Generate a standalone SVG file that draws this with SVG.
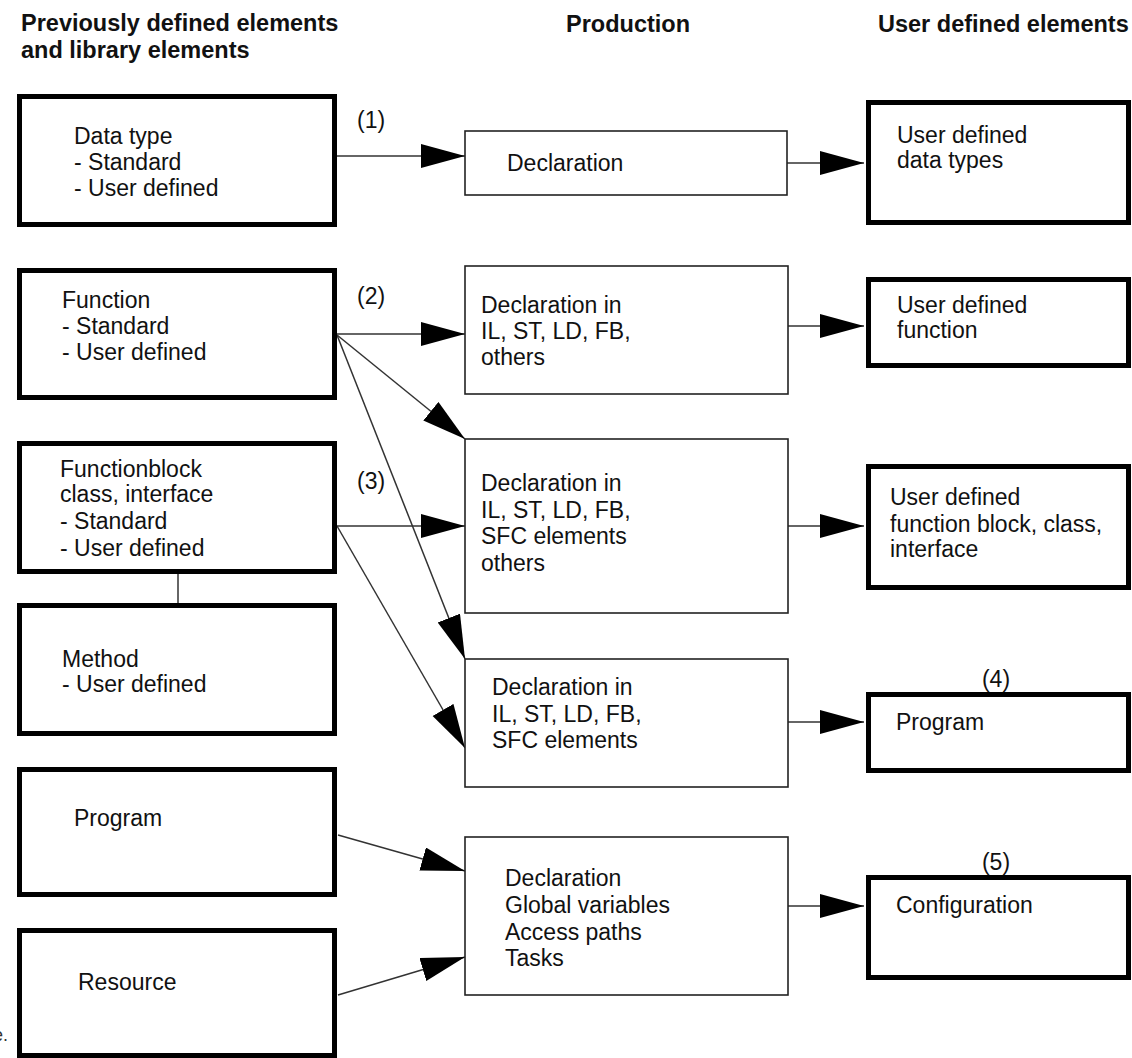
<svg xmlns="http://www.w3.org/2000/svg" width="1132" height="1058" viewBox="0 0 1132 1058">
  <style>
    text { font-family: "Liberation Sans", Arial, sans-serif; fill: #111; }
    .hdr { font-size: 23.5px; font-weight: bold; }
    .lbl { font-size: 23px; }
    .thick { fill: #fff; stroke: #000; stroke-width: 5; }
    .thin { fill: #fff; stroke: #222; stroke-width: 1.6; }
    .conn { fill: none; stroke: #333; stroke-width: 1.5; }
  </style>
  <defs>
    <marker id="arrow" markerUnits="userSpaceOnUse" markerWidth="46" markerHeight="26" refX="44" refY="12" orient="auto">
      <path d="M0,0 L44,12 L0,24 Z" fill="#000"/>
    </marker>
  </defs>

  <rect width="1132" height="1058" fill="#fff"/>

  <!-- column headings -->
  <g id="headings">
    <text class="hdr" x="21" y="31">Previously defined elements</text>
    <text class="hdr" x="21" y="58">and library elements</text>
    <text class="hdr" x="566" y="32">Production</text>
    <text class="hdr" x="878" y="32">User defined elements</text>
  </g>

  <!-- connectors -->
  <g id="connectors">
    <line class="conn" x1="337" y1="156" x2="465" y2="156" marker-end="url(#arrow)"/>
    <line class="conn" x1="787" y1="163" x2="864" y2="163" marker-end="url(#arrow)"/>
    <line class="conn" x1="337" y1="334" x2="465" y2="334" marker-end="url(#arrow)"/>
    <line class="conn" x1="337" y1="335" x2="465" y2="439" marker-end="url(#arrow)"/>
    <line class="conn" x1="337" y1="335" x2="465" y2="659" marker-end="url(#arrow)"/>
    <line class="conn" x1="788" y1="326" x2="864" y2="326" marker-end="url(#arrow)"/>
    <line class="conn" x1="337" y1="526" x2="465" y2="526" marker-end="url(#arrow)"/>
    <line class="conn" x1="337" y1="526" x2="465" y2="748" marker-end="url(#arrow)"/>
    <line class="conn" x1="788" y1="526" x2="864" y2="526" marker-end="url(#arrow)"/>
    <line class="conn" x1="788" y1="722" x2="864" y2="722" marker-end="url(#arrow)"/>
    <line class="conn" x1="338" y1="835" x2="465" y2="871" marker-end="url(#arrow)"/>
    <line class="conn" x1="338" y1="995" x2="465" y2="957" marker-end="url(#arrow)"/>
    <line class="conn" x1="788" y1="906" x2="864" y2="906" marker-end="url(#arrow)"/>
    <line class="conn" x1="178" y1="574" x2="178" y2="603"/>
  </g>

  <!-- edge numbers -->
  <g id="numbers">
    <text class="lbl" x="357" y="128">(1)</text>
    <text class="lbl" x="357" y="304">(2)</text>
    <text class="lbl" x="357" y="489">(3)</text>
    <text class="lbl" x="996" y="687" text-anchor="middle">(4)</text>
    <text class="lbl" x="996" y="870" text-anchor="middle">(5)</text>
  </g>

  <!-- left column: existing elements -->
  <g id="data-type">
    <rect class="thick" x="19.5" y="96.5" width="315" height="128"/>
    <text class="lbl" x="74" y="144">Data type</text>
    <text class="lbl" x="74" y="170">- Standard</text>
    <text class="lbl" x="74" y="196">- User defined</text>
  </g>
  <g id="function">
    <rect class="thick" x="19.5" y="270.5" width="315" height="127"/>
    <text class="lbl" x="62" y="308">Function</text>
    <text class="lbl" x="62" y="334">- Standard</text>
    <text class="lbl" x="62" y="360">- User defined</text>
  </g>
  <g id="functionblock">
    <rect class="thick" x="19.5" y="443.5" width="315" height="128"/>
    <text class="lbl" x="60" y="477">Functionblock</text>
    <text class="lbl" x="60" y="502">class, interface</text>
    <text class="lbl" x="60" y="529">- Standard</text>
    <text class="lbl" x="60" y="556">- User defined</text>
  </g>
  <g id="method">
    <rect class="thick" x="19.5" y="605.5" width="315" height="128"/>
    <text class="lbl" x="62" y="667">Method</text>
    <text class="lbl" x="62" y="692">- User defined</text>
  </g>
  <g id="program-lib">
    <rect class="thick" x="19.5" y="769.5" width="315" height="125"/>
    <text class="lbl" x="74" y="826">Program</text>
  </g>
  <g id="resource">
    <rect class="thick" x="19.5" y="930.5" width="315" height="125"/>
    <text class="lbl" x="78" y="990">Resource</text>
  </g>

  <!-- middle column: production -->
  <g id="decl-type">
    <rect class="thin" x="465" y="131" width="322" height="64"/>
    <text class="lbl" x="507" y="171">Declaration</text>
  </g>
  <g id="decl-function">
    <rect class="thin" x="465" y="266" width="323" height="128"/>
    <text class="lbl" x="481" y="313">Declaration in</text>
    <text class="lbl" x="481" y="339">IL, ST, LD, FB,</text>
    <text class="lbl" x="481" y="365">others</text>
  </g>
  <g id="decl-fb">
    <rect class="thin" x="465" y="439" width="323" height="174"/>
    <text class="lbl" x="481" y="491">Declaration in</text>
    <text class="lbl" x="481" y="518">IL, ST, LD, FB,</text>
    <text class="lbl" x="481" y="544">SFC elements</text>
    <text class="lbl" x="481" y="571">others</text>
  </g>
  <g id="decl-program">
    <rect class="thin" x="465" y="659" width="323" height="128"/>
    <text class="lbl" x="492" y="695">Declaration in</text>
    <text class="lbl" x="492" y="722">IL, ST, LD, FB,</text>
    <text class="lbl" x="492" y="748">SFC elements</text>
  </g>
  <g id="decl-config">
    <rect class="thin" x="465" y="837" width="323" height="158"/>
    <text class="lbl" x="505" y="886">Declaration</text>
    <text class="lbl" x="505" y="913">Global variables</text>
    <text class="lbl" x="505" y="940">Access paths</text>
    <text class="lbl" x="505" y="966">Tasks</text>
  </g>

  <!-- right column: user defined results -->
  <g id="user-types">
    <rect class="thick" x="868.5" y="102.5" width="260" height="120"/>
    <text class="lbl" x="897" y="143">User defined</text>
    <text class="lbl" x="897" y="168">data types</text>
  </g>
  <g id="user-function">
    <rect class="thick" x="868.5" y="279.5" width="260" height="86"/>
    <text class="lbl" x="897" y="313">User defined</text>
    <text class="lbl" x="897" y="338">function</text>
  </g>
  <g id="user-fb">
    <rect class="thick" x="868.5" y="466.5" width="260" height="121"/>
    <text class="lbl" x="890" y="505">User defined</text>
    <text class="lbl" x="890" y="532">function block, class,</text>
    <text class="lbl" x="890" y="557">interface</text>
  </g>
  <g id="user-program">
    <rect class="thick" x="868.5" y="694.5" width="260" height="76"/>
    <text class="lbl" x="896" y="730">Program</text>
  </g>
  <g id="user-config">
    <rect class="thick" x="868.5" y="877.5" width="260" height="100"/>
    <text class="lbl" x="896" y="913">Configuration</text>
  </g>

  <text x="-7" y="1041" style="font-size:18px; fill:#333;">e.</text>
</svg>
